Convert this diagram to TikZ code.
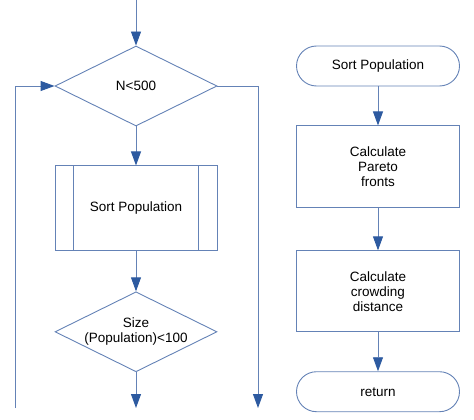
\documentclass[tikz,border=0pt]{standalone}
\usepackage{fontspec}
\setmainfont{Liberation Sans}
\usetikzlibrary{positioning,shapes.geometric,arrows.meta}
\definecolor{lineblue}{RGB}{100,130,182}
\definecolor{tipblue}{RGB}{45,90,160}

\tikzset{
	every node/.style={font=\fontsize{13.5pt}{15pt}\selectfont, align=center},
	flow/.style={draw=lineblue, line width=0.9pt, -{Triangle[length=14pt,width=10pt,fill=tipblue,color=tipblue]}},
	plain/.style={draw=lineblue, line width=0.9pt},
	decision/.style={diamond, draw=lineblue, line width=0.9pt, aspect=2, inner sep=0pt, minimum width=162pt, minimum height=80pt},
	process/.style={rectangle, draw=lineblue, line width=0.9pt, minimum width=163pt, minimum height=82pt},
	terminal/.style={rectangle, rounded corners=20pt, draw=lineblue, line width=0.9pt, minimum width=163pt, minimum height=40pt}
}

\begin{document}
\begin{tikzpicture}[x=1pt, y=-1pt]
\useasboundingbox (0,0) rectangle (474,420);

% main loop
\coordinate (start) at (136,0);
\node[decision] (loop) at (136,86) {N<500};
\node[process, minimum width=162pt, minimum height=85pt, below=39pt of loop] (sortcall) {Sort Population};
\node[decision, below=40pt of sortcall] (size) {Size\\(Population)<100};
\coordinate (sizeout) at (136,408);
\coordinate (back) at (15,408);
\coordinate (done) at (258,408);

\draw[plain] ([xshift=19pt]sortcall.north west) -- ([xshift=19pt]sortcall.south west);
\draw[plain] ([xshift=-19pt]sortcall.north east) -- ([xshift=-19pt]sortcall.south east);

\draw[flow] (start) -- (loop);
\draw[flow] (loop) -- (sortcall);
\draw[flow] (sortcall) -- (size);
\draw[flow] (size) -- (sizeout);
\draw[flow] (back) |- (loop.west);
\draw[flow] (loop.east) -| (done);

% sort subroutine
\node[terminal] (sortstart) at (378,66) {Sort Population};
\node[process, below=39pt of sortstart] (pareto) {Calculate\\Pareto\\fronts};
\node[process, minimum height=81pt, below=42pt of pareto] (crowd) {Calculate\\crowding\\distance};
\node[terminal, below=39pt of crowd] (ret) {return};

\draw[flow] (sortstart) -- (pareto);
\draw[flow] (pareto) -- (crowd);
\draw[flow] (crowd) -- (ret);
\end{tikzpicture}
\end{document}
